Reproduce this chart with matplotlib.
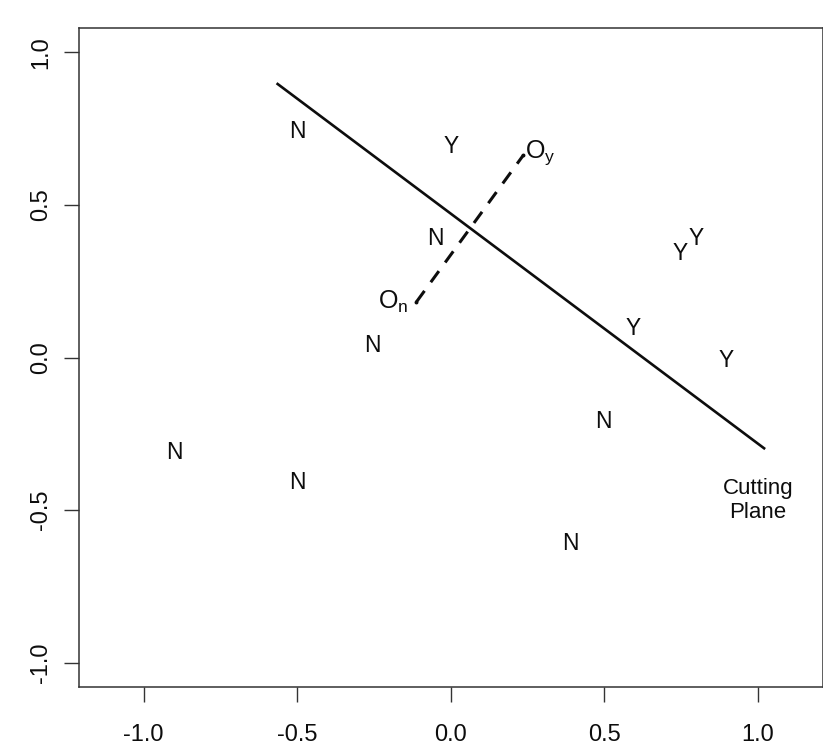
import matplotlib
matplotlib.use('Agg')
import matplotlib.pyplot as plt

plt.rcParams['font.family'] = ['Liberation Sans', 'DejaVu Sans']

# class labels and their positions
labels = ['N', 'Y', 'N', 'Y', 'Y', 'Y', 'Y', 'N', 'N', 'N', 'N', 'N']
xs = [-0.50, 0.00, -0.05, 0.745, 0.80, 0.595, 0.895, -0.255, -0.90, -0.50, 0.495, 0.39]
ys = [0.74, 0.69, 0.39, 0.34, 0.39, 0.095, -0.01, 0.04, -0.31, -0.41, -0.21, -0.61]

# cutting plane end points
plane_x = [-0.567, 1.023]
plane_y = [0.899, -0.300]

# centroids O_n and O_y
cent_x = [-0.112, 0.236]
cent_y = [0.182, 0.663]

ticks = [-1.0, -0.5, 0.0, 0.5, 1.0]

fig = plt.figure(figsize=(8.23, 7.46), dpi=100)
ax = fig.add_axes([0.096, 0.079, 0.9035, 0.8835])

ax.set_xlim(-1.21, 1.21)
ax.set_ylim(-1.08, 1.08)

ink = '#0d0d0d'

for lab, x, y in zip(labels, xs, ys):
    ax.text(x, y, lab, ha='center', va='center', fontsize=16.5, color=ink)

# cutting plane
ax.plot(plane_x, plane_y, color=ink, lw=1.9, solid_capstyle='butt')
ax.text(1.0, -0.468, 'Cutting\nPlane', ha='center', va='center', fontsize=16,
        color=ink, linespacing=1.2)

# line joining the two centroids
ax.plot(cent_x, cent_y, color=ink, lw=2.2, ls=(0, (4.5, 3.5)))
ax.plot(cent_x, cent_y, ls='none', marker='o', ms=1.8, color=ink)
ax.text(cent_x[0] - 0.025, cent_y[0], r'$\mathregular{O_n}$', ha='right', va='center',
        fontsize=18, color=ink)
ax.text(cent_x[1] + 0.005, cent_y[1] + 0.01, r'$\mathregular{O_y}$', ha='left', va='center',
        fontsize=18, color=ink)

ax.set_xticks(ticks)
ax.set_yticks(ticks)
ax.set_xticklabels([f'{t:.1f}' for t in ticks])
ax.set_yticklabels([f'{t:.1f}' for t in ticks], rotation=90, va='center')
ax.tick_params(direction='out', length=10.5, width=1.0, labelsize=17,
               color='#333333', labelcolor=ink)
ax.tick_params(axis='x', pad=16)
ax.tick_params(axis='y', pad=9)
for sp in ax.spines.values():
    sp.set_linewidth(1.1)
    sp.set_color('#333333')

fig.savefig('out.png', dpi=100)
